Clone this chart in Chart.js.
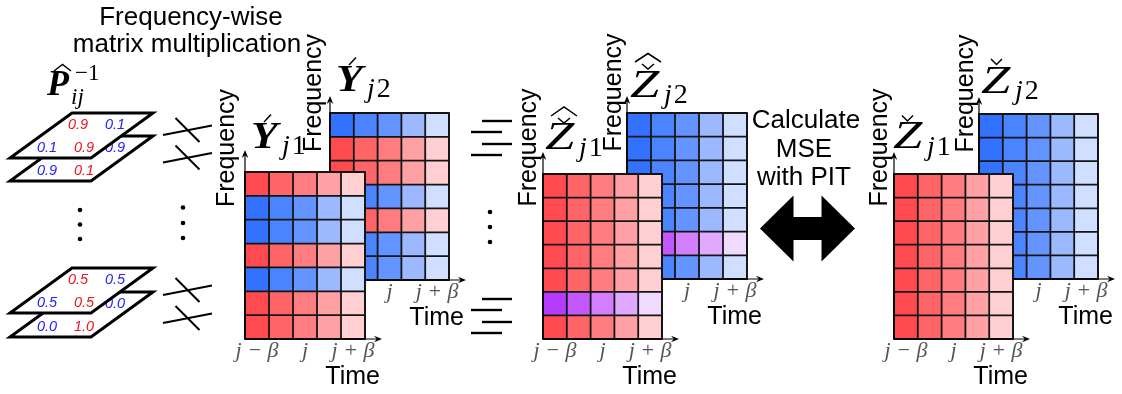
<!DOCTYPE html>
<html>
<head>
<meta charset="utf-8">
<script src="https://cdn.jsdelivr.net/npm/chart.js@4.4.1/dist/chart.umd.min.js"></script>
<style>
  html, body { margin: 0; padding: 0; background: #fff; }
  #stage { position: relative; width: 1122px; height: 394px; overflow: hidden; background: #fff; }
  #stage canvas { position: absolute; }
  #deco { position: absolute; left: 0; top: 0; z-index: 10; pointer-events: none; }
</style>
</head>
<body>
<div id="stage">
  <svg id="deco" width="1122" height="394" xmlns="http://www.w3.org/2000/svg"></svg>
</div>
<script>
// ---- data -------------------------------------------------------------
// time frames of one analysis block, left to right
const timeTicks = ['j − β', '', 'j', '', 'j + β'];

// source label of every frequency bin, listed from the top bin down
// r = source 1, b = source 2, p = mixture of both
const rowsYAcute1   = ['r', 'b', 'b', 'r', 'b', 'r', 'r'];
const rowsYAcute2   = ['b', 'r', 'r', 'b', 'r', 'b', 'b'];
const rowsZHat1     = ['r', 'r', 'r', 'r', 'r', 'p', 'r'];
const rowsZHat2     = ['b', 'b', 'b', 'b', 'b', 'p', 'b'];
const rowsZCheck1   = ['r', 'r', 'r', 'r', 'r', 'r', 'r'];
const rowsZCheck2   = ['b', 'b', 'b', 'b', 'b', 'b', 'b'];

// inverse demixing matrices for two frequency bins of each stack
const demixTopFront    = [[0.9, 0.1], [0.1, 0.9]];
const demixTopBack     = [[0.1, 0.9], [0.9, 0.1]];
const demixBottomFront = [[0.5, 0.5], [0.5, 0.5]];
const demixBottomBack  = [[1.0, 0.0], [0.0, 1.0]];

// ---- styles -----------------------------------------------------------
// energy fades from the oldest frame to the newest one
const palette = {
  r: ['#ff4a4f', '#ff6467', '#ff7c80', '#ffa1a4', '#ffcfd1'],
  b: ['#3272ff', '#4a84ff', '#6494ff', '#9cb8ff', '#d0dfff'],
  p: ['#b43cff', '#c458ff', '#d27eff', '#e0a9ff', '#f1daff']
};
const PAD = { l: 80, t: 100, r: 30, b: 52 };
const ARROW = 17;

// ---- panels (back ones first so the front ones cover them) -----------
const panels = [
  { rows: rowsYAcute2,  left: 330, top: 113, w: 119, h: 167, fdx: 9,   fdy: 20,   tip: 17 },
  { rows: rowsYAcute1,  left: 245, top: 172, w: 120, h: 167, fdx: 11,  fdy: 24,   tip: 22 },
  { rows: rowsZHat2,    left: 627, top: 113, w: 120, h: 166, fdx: 6,   fdy: 20.5, tip: 17 },
  { rows: rowsZHat1,    left: 543, top: 174, w: 119, h: 165, fdx: 7,   fdy: 26.5, tip: 22 },
  { rows: rowsZCheck2,  left: 979, top: 114, w: 119, h: 165, fdx: 6,   fdy: 20.5, tip: 17 },
  { rows: rowsZCheck1,  left: 894, top: 174, w: 119, h: 165, fdx: 7,   fdy: 26.5, tip: 22 }
];

function arrowHead(ctx, x, y, dx, dy) {
  const L = 8, W = 3.3, px = -dy, py = dx;
  ctx.beginPath();
  ctx.moveTo(x, y);
  ctx.lineTo(x - dx * L + px * W, y - dy * L + py * W);
  ctx.lineTo(x - dx * L * 0.65, y - dy * L * 0.65);
  ctx.lineTo(x - dx * L - px * W, y - dy * L - py * W);
  ctx.closePath();
  ctx.fill();
}

// grid lines, arrowed axes and axis texts of one spectrogram panel
const panelDecor = {
  id: 'panelDecor',
  afterDatasetsDraw(chart, args, o) {
    const { ctx, chartArea: a, scales: { x, y } } = chart;
    ctx.save();
    ctx.strokeStyle = '#141414';
    ctx.lineWidth = 1.8;
    ctx.beginPath();
    for (let c = 0; c <= timeTicks.length; c++) {
      const px = x.getPixelForValue(c - 0.5);
      ctx.moveTo(px, a.top); ctx.lineTo(px, a.bottom);
    }
    for (let r = 0; r <= o.nRows; r++) {
      const py = y.getPixelForValue(r);
      ctx.moveTo(a.left, py); ctx.lineTo(a.right, py);
    }
    ctx.stroke();
    ctx.lineCap = 'square';
    ctx.strokeRect(a.left, a.top, a.right - a.left, a.bottom - a.top);

    // axes
    ctx.fillStyle = '#000';
    ctx.strokeStyle = '#000';
    ctx.lineWidth = 1.2;
    ctx.lineCap = 'butt';
    ctx.beginPath();
    ctx.moveTo(a.left, a.bottom); ctx.lineTo(a.left, a.top - o.tip + 5);
    ctx.moveTo(a.left, a.bottom); ctx.lineTo(a.right + ARROW - 5, a.bottom);
    ctx.stroke();
    arrowHead(ctx, a.left, a.top - o.tip, 0, -1);
    arrowHead(ctx, a.right + ARROW, a.bottom, 1, 0);

    // time tick labels
    ctx.fillStyle = '#555';
    ctx.font = 'italic 22px "Liberation Serif"';
    ctx.textAlign = 'center';
    ctx.textBaseline = 'alphabetic';
    timeTicks.forEach((t, i) => {
      if (t) ctx.fillText(t, x.getPixelForValue(i), a.bottom + 18);
    });

    // axis titles
    ctx.fillStyle = '#000';
    ctx.font = '25px "Liberation Sans"';
    ctx.textAlign = 'right';
    ctx.fillText('Time', a.right + ARROW - 2, a.bottom + 45);
    ctx.translate(a.left - o.fdx, a.top - o.fdy);
    ctx.rotate(-Math.PI / 2);
    ctx.textAlign = 'center';
    ctx.fillText('Frequency', 0, 0);
    ctx.restore();
  }
};

const stage = document.getElementById('stage');
panels.forEach(p => {
  const cv = document.createElement('canvas');
  const W = PAD.l + p.w + PAD.r, H = PAD.t + p.h + PAD.b;
  cv.width = W; cv.height = H;
  cv.style.width = W + 'px'; cv.style.height = H + 'px';
  cv.style.left = (p.left - PAD.l) + 'px';
  cv.style.top = (p.top - PAD.t) + 'px';
  stage.insertBefore(cv, document.getElementById('deco'));
  // the lowest bin is stacked first
  const datasets = p.rows.slice().reverse().map(k => ({
    data: timeTicks.map(() => 1),
    backgroundColor: timeTicks.map((_, c) => palette[k][c]),
    borderWidth: 0,
    barPercentage: 1,
    categoryPercentage: 1
  }));
  new Chart(cv, {
    type: 'bar',
    data: { labels: timeTicks, datasets },
    options: {
      responsive: false,
      animation: false,
      devicePixelRatio: 1,
      events: [],
      layout: { padding: { left: PAD.l, top: PAD.t, right: PAD.r, bottom: PAD.b } },
      scales: {
        x: { display: false, stacked: true },
        y: { display: false, stacked: true, min: 0, max: p.rows.length }
      },
      plugins: {
        legend: { display: false },
        tooltip: { enabled: false },
        panelDecor: { nRows: p.rows.length, tip: p.tip, fdx: p.fdx, fdy: p.fdy }
      }
    },
    plugins: [panelDecor]
  });
});

// ---- annotations ------------------------------------------------------
const NS = 'http://www.w3.org/2000/svg';
const svg = document.getElementById('deco');
function el(tag, attrs, text) {
  const e = document.createElementNS(NS, tag);
  for (const k in attrs) e.setAttribute(k, attrs[k]);
  if (text !== undefined) e.textContent = text;
  svg.appendChild(e);
  return e;
}
function txt(x, y, s, attrs) {
  return el('text', Object.assign({ x, y, 'font-family': 'Liberation Sans', 'font-size': 26 }, attrs || {}), s);
}

// a 2x2 matrix drawn as a slanted plane
function plane(top, m) {
  const x0 = 72, wTop = 81, skew = 62, hgt = 45;
  el('polygon', {
    points: `${x0},${top} ${x0 + wTop},${top} ${x0 + wTop - skew},${top + hgt} ${x0 - skew},${top + hgt}`,
    fill: '#fff', stroke: '#000', 'stroke-width': 3, 'stroke-linejoin': 'miter'
  });
  m.forEach((row, i) => row.forEach((v, j) => {
    txt(78 + 37 * j - 31 * i, top + 16 + 23 * i, v.toFixed(1), {
      'font-size': 14.5, 'font-style': 'italic', 'text-anchor': 'middle',
      fill: i === j ? '#ee1422' : '#2222ff'
    });
  }));
}
plane(136, demixTopBack);
plane(113, demixTopFront);
plane(292, demixBottomBack);
plane(268, demixBottomFront);

// multiplication marks
[0, 27.5, 160, 188].forEach(dy => {
  el('line', { x1: 163, y1: 135 + dy, x2: 212, y2: 125.5 + dy, stroke: '#000', 'stroke-width': 2 });
  el('line', { x1: 175.5, y1: 118 + dy, x2: 199.5, y2: 142 + dy, stroke: '#000', 'stroke-width': 2 });
});

// equality marks
[0, 23, 178, 201].forEach(dy => {
  el('line', { x1: 482, y1: 121 + dy, x2: 512, y2: 121 + dy, stroke: '#000', 'stroke-width': 2.4 });
  el('line', { x1: 471, y1: 132 + dy, x2: 502, y2: 132 + dy, stroke: '#000', 'stroke-width': 2.4 });
});

// vertical ellipses
[[80, [210, 224.5, 239]], [183, [207.5, 223, 238]], [490, [212, 227, 242]]].forEach(([cx, ys]) => {
  ys.forEach(cy => el('circle', { cx, cy, r: 2.3, fill: '#000' }));
});

// two-headed comparison arrow
el('polygon', {
  points: '760,228.5 793.5,195.5 793.5,217 821.5,217 821.5,195.5 855,228.5 821.5,261.5 821.5,240 793.5,240 793.5,261.5',
  fill: '#000'
});

// plain captions
txt(191, 25, 'Frequency-wise', { 'text-anchor': 'middle' });
txt(187, 52, 'matrix multiplication', { 'text-anchor': 'middle' });
txt(806, 128, 'Calculate', { 'text-anchor': 'middle' });
txt(804, 157, 'MSE', { 'text-anchor': 'middle' });
txt(804, 185, 'with PIT', { 'text-anchor': 'middle' });

// math symbols
const SERIF = 'Liberation Serif';
function accent(points) {
  el('polyline', { points, fill: 'none', stroke: '#000', 'stroke-width': 1.5, 'stroke-linejoin': 'miter' });
}
function sym(x, base, letter, bold, sub, subDx, subDy, scaleX) {
  el('text', {
    x: 0, y: 0, 'font-family': SERIF, 'font-size': 39, 'font-style': 'italic',
    'font-weight': bold ? 'bold' : 'normal',
    transform: `translate(${x},${base}) scale(${scaleX},1)`
  }, letter);
  const s = el('text', { x: x + subDx, y: base + subDy, 'font-family': SERIF, 'font-size': 28 });
  const tj = document.createElementNS(NS, 'tspan');
  tj.setAttribute('font-style', 'italic'); tj.textContent = sub[0];
  const tn = document.createElementNS(NS, 'tspan');
  tn.setAttribute('dx', 2); tn.textContent = sub.slice(1);
  s.appendChild(tj); s.appendChild(tn);
}

// P hat, inverse, per frequency bin ij
el('text', { x: 47, y: 95, 'font-family': SERIF, 'font-size': 36, 'font-style': 'italic', 'font-weight': 'bold' }, 'P');
accent('54,71 62.5,64.5 71,71');
el('text', { x: 75, y: 80, 'font-family': SERIF, 'font-size': 23 }, '−1');
el('text', { x: 71, y: 104, 'font-family': SERIF, 'font-size': 23, 'font-style': 'italic' }, 'ij');

// Y acute (separated, still permuted)
sym(251, 148, 'Y', true, 'j1', 31, 6, 1.12);
accent('264,122 271,114.5');
sym(336, 91, 'Y', true, 'j2', 31, 6, 1.12);
accent('349,65 356,57.5');

// Z hat check (after PIT)
sym(545, 149, 'Z', false, 'j1', 34, 7, 1.35);
accent('551,116 564,107 577,116');
accent('558,118 564,123 570,118');
sym(630, 97, 'Z', false, 'j2', 34, 6, 1.35);
accent('635,62 648,53.5 661,62');
accent('642,64 648,69 654,64');

// Z check (oracle)
sym(893, 148, 'Z', false, 'j1', 34, 7, 1.35);
accent('902,115.5 907.5,121 913,115.5');
sym(981, 93, 'Z', false, 'j2', 34, 6, 1.35);
accent('991,59 996.5,64.5 1002,59');
</script>
</body>
</html>
